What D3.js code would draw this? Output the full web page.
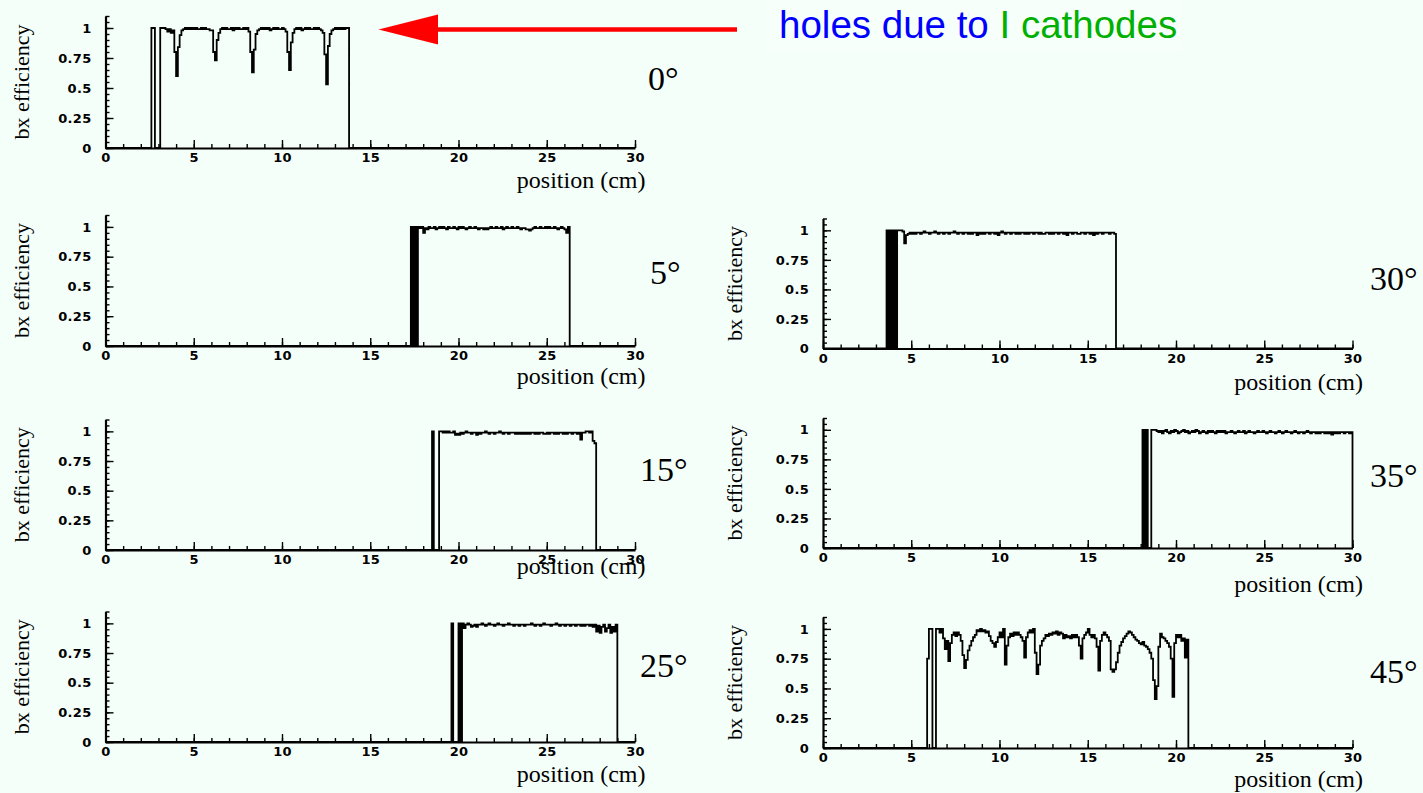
<!DOCTYPE html>
<html>
<head>
<meta charset="utf-8">
<script src="https://cdn.jsdelivr.net/npm/d3@7"></script>
<style>
  body { margin: 0; background: #f5fffa; }
  svg { display: block; }
</style>
</head>
<body>
<svg id="chart"></svg>
<script>
//  ------------------------------------------------ data ---------- start
const binWidth = 0.1   // cm per histogram bin

const angleLabels = ['0°', '5°', '15°', '25°', '30°', '35°', '45°']
const firstBin = [2.5, 17.2, 18.4, 19.5, 3.5, 18.0, 5.8]   // position (cm) of first listed bin

const xMajor = [0, 5, 10, 15, 20, 25, 30]
const yMajor = [0, 0.25, 0.5, 0.75, 1]

const eff00 = [
  0, 1, 1, 0, 0,
  0, 1, 1, 1, 0.99, 0.97, 0.99, 0.96, 0.98, 0.80,
  0.60, 0.84, 0.94, 0.98, 0.99, 1, 0.99, 1, 0.99, 1,
  0.99, 1, 0.99, 0.99, 1, 0.99, 1, 0.99, 0.99, 0.98,
  0.98, 0.80, 0.73, 0.90, 0.96, 0.99, 1, 0.99, 1, 0.99,
  0.99, 1, 0.98, 1, 0.99, 1, 0.99, 0.99, 1, 0.99,
  1, 0.97, 0.80, 0.63, 0.82, 0.95, 0.98, 0.99, 1, 0.99,
  1, 0.99, 1, 0.98, 0.99, 1, 0.99, 1, 0.99, 0.99,
  1, 0.99, 0.97, 0.80, 0.65, 0.88, 0.96, 0.99, 1, 0.99,
  1, 0.98, 0.99, 1, 0.99, 1, 0.99, 0.99, 1, 0.99,
  1, 0.99, 0.98, 0.96, 0.78, 0.53, 0.85, 0.95, 0.98, 0.99,
  1, 0.99, 1, 0.99, 1, 0.99, 1, 1
]
const eff05 = [
  0, 1, 0, 1, 0, 1, 0.99, 1,
  0.95, 0.99, 0.98, 1, 0.99, 0.99, 1, 0.98, 0.99, 1,
  0.99, 1, 0.99, 0.98, 1, 0.99, 0.99, 1, 0.99, 0.98,
  1, 0.99, 1, 0.99, 0.98, 0.99, 1, 0.99, 0.99, 1,
  0.99, 0.98, 0.99, 0.99, 0.98, 0.99, 0.98, 0.99, 1, 0.99,
  0.99, 1, 0.99, 0.99, 1, 0.98, 0.99, 1, 0.99, 0.99,
  1, 0.99, 0.99, 1, 0.99, 0.98, 0.99, 0.99, 0.98, 0.98,
  0.97, 0.98, 0.99, 1, 0.99, 0.99, 1, 0.99, 0.99, 1,
  0.99, 1, 0.99, 0.99, 1, 0.99, 0.98, 0.99, 1, 0.99,
  0.98, 0.95, 1
]
const eff15 = [
  0, 1, 0, 0, 0, 1,
  1, 0.99, 1, 0.99, 1, 0.99, 0.99, 1, 0.97, 0.98,
  0.97, 0.99, 0.98, 0.99, 1, 0.99, 0.99, 0.98, 0.99, 0.99,
  0.97, 0.99, 0.98, 0.99, 0.99, 1, 0.99, 0.98, 0.99, 0.99,
  0.98, 0.99, 0.99, 1, 0.99, 0.98, 0.99, 0.99, 0.98, 0.99,
  0.99, 0.99, 0.98, 0.99, 0.98, 0.99, 0.98, 0.99, 0.98, 0.99,
  0.98, 0.99, 0.99, 0.98, 0.99, 0.98, 0.99, 0.99, 0.98, 0.98,
  0.99, 0.98, 0.99, 0.99, 0.98, 0.99, 0.98, 0.99, 0.99, 0.98,
  0.99, 0.98, 0.99, 0.99, 0.98, 0.99, 0.99, 0.98, 0.99, 0.93,
  0.99, 0.99, 1, 1, 0.99, 1, 0.92, 0.90
]
const eff25 = [
  0, 1, 0, 0, 0,
  1, 0, 1, 0.96, 0.99, 1, 0.99, 0.97, 0.98, 0.99,
  0.97, 0.99, 0.99, 1, 0.99, 0.98, 0.99, 1, 0.99, 0.99,
  0.98, 0.99, 1, 0.99, 0.99, 0.98, 0.99, 0.99, 1, 0.99,
  0.99, 0.98, 0.99, 0.99, 0.98, 0.99, 0.99, 0.98, 0.99, 0.99,
  0.99, 1, 0.99, 0.98, 0.99, 0.99, 0.98, 0.99, 1, 0.99,
  0.99, 0.99, 0.98, 0.99, 0.99, 1, 0.99, 0.98, 0.99, 0.99,
  0.98, 0.99, 0.99, 0.98, 0.99, 0.99, 0.98, 0.99, 0.99, 0.98,
  0.99, 0.98, 0.99, 0.99, 0.98, 0.99, 0.97, 0.99, 0.93, 0.98,
  0.92, 0.97, 0.99, 0.93, 0.96, 0.99, 0.92, 0.97, 0.93, 0.99
]
const eff30 = [
  0, 1, 0, 1, 0, 1, 0, 1, 1, 1, 0.99, 0.89, 0.96, 0.97, 0.98,
  0.97, 0.98, 0.97, 0.98, 0.98, 0.97, 0.98, 0.99, 0.98, 0.98,
  0.97, 0.98, 0.98, 0.99, 0.98, 0.97, 0.98, 0.98, 0.97, 0.98,
  0.98, 0.97, 0.98, 0.98, 0.99, 0.98, 0.97, 0.98, 0.98, 0.97,
  0.98, 0.98, 0.97, 0.98, 0.97, 0.98, 0.98, 0.96, 0.98, 0.97,
  0.98, 0.97, 0.98, 0.98, 0.97, 0.98, 0.98, 0.97, 0.98, 0.96,
  0.98, 0.99, 0.98, 0.97, 0.98, 0.98, 0.97, 0.98, 0.98, 0.97,
  0.98, 0.97, 0.98, 0.98, 0.97, 0.98, 0.97, 0.98, 0.98, 0.97,
  0.98, 0.98, 0.97, 0.98, 0.97, 0.97, 0.98, 0.98, 0.97, 0.98,
  0.97, 0.98, 0.98, 0.97, 0.98, 0.98, 0.97, 0.98, 0.96, 0.98,
  0.98, 0.97, 0.98, 0.98, 0.97, 0.97, 0.98, 0.98, 0.97, 0.98,
  0.98, 0.97, 0.98, 0.96, 0.98, 0.97, 0.98, 0.98, 0.97, 0.98,
  0.98, 0.98, 0.97, 0.98, 0.98, 0.97
]
const eff35 = [
  0, 1, 0, 1, 0, 0, 1, 1, 1, 0.99,
  0.98, 0.99, 0.97, 0.99, 1, 0.98, 0.97, 0.99, 0.98, 1,
  0.99, 0.97, 0.98, 0.99, 1, 0.98, 0.99, 0.97, 0.98, 0.99,
  0.98, 1, 0.99, 0.97, 0.98, 0.99, 0.98, 0.97, 0.99, 0.98,
  0.99, 0.98, 0.97, 0.99, 0.98, 0.99, 0.98, 0.99, 0.97, 0.98,
  0.98, 0.99, 0.98, 0.97, 0.98, 0.99, 0.98, 0.98, 0.99, 0.97,
  0.98, 0.99, 0.98, 0.98, 0.97, 0.98, 0.99, 0.98, 0.98, 0.99,
  0.98, 0.97, 0.98, 0.99, 0.98, 0.98, 0.97, 0.98, 0.99, 0.98,
  0.97, 0.98, 0.99, 0.98, 0.98, 0.97, 0.98, 0.99, 0.98, 0.97,
  0.98, 0.98, 0.97, 0.98, 0.99, 0.98, 0.97, 0.98, 0.98, 0.97,
  0.98, 0.97, 0.98, 0.98, 0.97, 0.98, 0.97, 0.98, 0.96, 0.98,
  0.97, 0.98, 0.97, 0.98, 0.98, 0.97, 0.98, 0.98, 0.97, 0.98
]
const eff45 = [
  0, 0.75,
  1, 1, 0, 0, 1, 1, 0.97, 1, 0.92, 0.83,
  0.90, 0.73, 0.88, 0.95, 0.97, 0.94, 0.97, 0.95, 0.90, 0.78,
  0.67, 0.74, 0.82, 0.86, 0.90, 0.93, 0.95, 0.99, 0.98, 1,
  0.98, 0.99, 0.97, 0.98, 0.94, 0.90, 0.88, 0.85, 0.89, 0.93,
  0.97, 0.93, 1, 0.70, 0.86, 0.93, 0.96, 0.94, 0.97, 0.95,
  0.97, 0.95, 0.93, 0.90, 0.76, 0.93, 0.97, 0.99, 0.97, 1,
  0.80, 0.62, 0.70, 0.86, 0.90, 0.92, 0.95, 0.94, 0.96, 0.95,
  0.97, 0.96, 0.98, 0.95, 0.97, 0.96, 0.92, 0.95, 0.93, 0.94,
  0.92, 0.95, 0.93, 0.95, 0.93, 0.86, 0.75, 0.92, 0.95, 0.97,
  1, 0.95, 0.93, 0.95, 0.92, 0.85, 0.65, 0.90, 0.95, 0.97,
  0.95, 0.93, 0.90, 0.66, 0.64, 0.66, 0.72, 0.80, 0.86, 0.89,
  0.92, 0.94, 0.96, 0.98, 0.97, 0.95, 0.93, 0.91, 0.90, 0.88,
  0.87, 0.89, 0.86, 0.85, 0.83, 0.80, 0.75, 0.57, 0.41, 0.52,
  0.85, 0.96, 0.93, 0.92, 0.90, 0.88, 0.85, 0.75, 0.43, 0.88,
  0.95, 0.93, 0.95, 0.90, 0.92, 0.76, 0.91
]
const efficiencies = [eff00, eff05, eff15, eff25, eff30, eff35, eff45]
//  ------------------------------------------------ data ---------- end

//  ------------------------------------------------ layout ---------- start
const W = 1423, H = 793
const plotW = 529.5
const panelLeft   = [105.5, 105.5, 105.5, 105.5, 823, 823, 823]
const panelBottom = [148, 346, 550, 742, 348.5, 548, 748]
const panelHeight = [132, 131, 130.5, 130.5, 130, 130, 131]   // pixels for 1.1
const angleX = [648, 650, 640, 640, 1370, 1370, 1370]
const angleY = [90, 284, 481, 677, 290, 487, 683]
const posLabelDy = [40, 38, 24, 40, 41, 44, 39]
const yLabelX = [29, 29, 29, 29, 742, 742, 742]

const svg = d3.select('#chart')
  .attr('width', W)
  .attr('height', H)

svg.append('rect').attr('width', W).attr('height', H).attr('fill', '#f5fffa')
//  ------------------------------------------------ layout ---------- end

//  ------------------------------------------------ panels ---------- start
function drawPanel(i) {
  let g = svg.append('g').attr('class', 'panel')
  let bottom = panelBottom[i]
  let top = bottom - panelHeight[i]

  let x = d3.scaleLinear().domain([0, 30]).range([panelLeft[i], panelLeft[i] + plotW])
  let y = d3.scaleLinear().domain([0, 1.1]).range([bottom, top])

  // histogram as a step line
  let vals = efficiencies[i]
  let pts = [[0, 0]]
  vals.forEach((v, k) => pts.push([firstBin[i] + k * binWidth, v]))
  pts.push([firstBin[i] + vals.length * binWidth, 0])
  pts.push([30, 0])

  let line = d3.line()
    .x(d => x(d[0]))
    .y(d => y(d[1]))
    .curve(d3.curveStepAfter)

  g.append('path')
    .attr('d', line(pts))
    .attr('fill', 'none')
    .attr('stroke', 'black')
    .attr('stroke-width', 1.8)

  // minor ticks
  g.append('g')
    .attr('transform', `translate(0,${bottom})`)
    .call(d3.axisBottom(x).tickValues(d3.range(0, 31, 1)).tickSize(-4).tickSizeOuter(0).tickFormat(''))
    .call(a => a.select('.domain').remove())
  g.append('g')
    .attr('transform', `translate(${panelLeft[i]},0)`)
    .call(d3.axisLeft(y).tickValues(d3.range(0, 1.1001, 0.05)).tickSize(-4).tickSizeOuter(0).tickFormat(''))
    .call(a => a.select('.domain').remove())

  // major ticks + labels
  let xa = g.append('g')
    .attr('transform', `translate(0,${bottom})`)
    .call(d3.axisBottom(x).tickValues(xMajor).tickSize(-8).tickSizeOuter(0).tickPadding(5).tickFormat(d => String(d)))
  let ya = g.append('g')
    .attr('transform', `translate(${panelLeft[i]},0)`)
    .call(d3.axisLeft(y).tickValues(yMajor).tickSize(-8).tickSizeOuter(0).tickPadding(14).tickFormat(d => String(d)))

  ;[xa, ya].forEach(a => {
    a.attr('font-family', 'DejaVu Sans, sans-serif')
      .attr('font-size', 13)
      .attr('font-weight', 'bold')
    a.selectAll('text').attr('letter-spacing', 0.3)
    a.select('.domain').attr('stroke-width', 2.2)
  })
  g.selectAll('.tick line').attr('stroke-width', 1.4)

  // titles
  g.append('text')
    .attr('transform', `translate(${yLabelX[i]},${(top + bottom) / 2}) rotate(-90)`)
    .attr('text-anchor', 'middle')
    .attr('font-family', 'Liberation Serif, Times New Roman, serif')
    .attr('font-size', 22)
    .text('bx efficiency')

  g.append('text')
    .attr('x', panelLeft[i] + plotW + 10.5)
    .attr('y', bottom + posLabelDy[i])
    .attr('text-anchor', 'end')
    .attr('font-family', 'Liberation Serif, Times New Roman, serif')
    .attr('font-size', 24)
    .text('position (cm)')

  g.append('text')
    .attr('x', angleX[i])
    .attr('y', angleY[i])
    .attr('font-family', 'Liberation Serif, Times New Roman, serif')
    .attr('font-size', 34)
    .text(angleLabels[i])
}

angleLabels.forEach((a, i) => drawPanel(i))
//  ------------------------------------------------ panels ---------- end

//  ------------------------------------------------ annotation ---------- start
svg.append('rect')
  .attr('x', 765).attr('y', 0).attr('width', 417).attr('height', 52)
  .attr('fill', '#f7fffb')

svg.append('line')
  .attr('x1', 436).attr('y1', 29.5)
  .attr('x2', 737).attr('y2', 29.5)
  .attr('stroke', '#ff0000')
  .attr('stroke-width', 4.3)

svg.append('polygon')
  .attr('points', '378.5,29.5 438,14.5 438,44.5')
  .attr('fill', '#ff0000')

let note = svg.append('text')
  .attr('x', 779)
  .attr('y', 38)
  .attr('font-family', 'Liberation Sans, Arial, sans-serif')
  .attr('font-size', 38.5)
note.append('tspan').attr('fill', '#0000ff').text('holes due to ')
note.append('tspan').attr('fill', '#00b000').text('I cathodes')
//  ------------------------------------------------ annotation ---------- end
</script>
</body>
</html>
